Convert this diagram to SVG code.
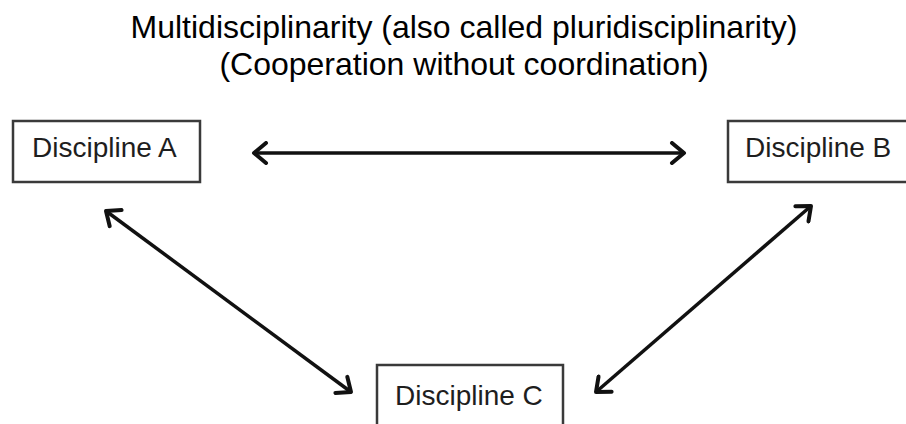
<svg xmlns="http://www.w3.org/2000/svg" width="906" height="424" viewBox="0 0 906 424">
  <style>
    .title { font-family: "Liberation Sans", Arial, sans-serif; font-size: 32px; fill: #000; text-anchor: middle; }
    .box { fill: #fff; stroke: #3a3a3a; stroke-width: 2.5; }
    .lbl { font-family: "Liberation Sans", Arial, sans-serif; font-size: 28px; fill: #1e1e1e; }
    .conn { fill: none; stroke: #111; stroke-width: 3.5; marker-start: url(#chev); marker-end: url(#chev); }
  </style>
  <defs>
    <marker id="chev" markerUnits="userSpaceOnUse" viewBox="-16 -12 20 24" refX="0" refY="0" markerWidth="20" markerHeight="24" orient="auto-start-reverse">
      <path d="M -12 -10 L 0 0 L -12 10" fill="none" stroke="#111" stroke-width="4" stroke-linecap="round" stroke-linejoin="round"/>
    </marker>
  </defs>
  <rect width="906" height="424" fill="#fff"/>
  <g id="title">
    <text class="title" x="464" y="38">Multidisciplinarity (also called pluridisciplinarity)</text>
    <text class="title" x="464" y="75">(Cooperation without coordination)</text>
  </g>
  <g id="connectors">
    <line class="conn" x1="254" y1="153" x2="684" y2="153"/>
    <line class="conn" x1="106" y1="211" x2="351" y2="392"/>
    <line class="conn" x1="811" y1="206" x2="596" y2="392"/>
  </g>
  <g id="discipline-a">
    <rect class="box" x="13" y="121" width="187" height="61"/>
    <text class="lbl" x="32" y="157">Discipline A</text>
  </g>
  <g id="discipline-b">
    <rect class="box" x="728" y="121" width="190" height="61"/>
    <text class="lbl" x="745" y="157">Discipline B</text>
  </g>
  <g id="discipline-c">
    <rect class="box" x="377" y="365" width="186" height="70"/>
    <text class="lbl" x="395" y="405">Discipline C</text>
  </g>
</svg>
